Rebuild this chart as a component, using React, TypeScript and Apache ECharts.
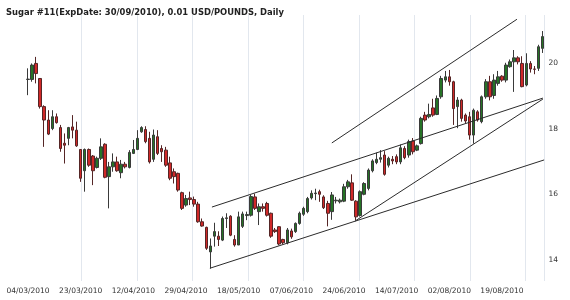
import React, { useEffect, useRef } from "react";
import * as echarts from "echarts";

const chartTitle = "Sugar #11(ExpDate: 30/09/2010), 0.01 USD/POUNDS, Daily";
const startDate = "2010-03-04";
const holidays = ["2010-04-02", "2010-05-31", "2010-07-05"];
const candleCount = 128;

const openVals = [
  19.49, 19.49, 19.98, 19.52, 18.66, 18.25, 17.99, 18.35, 18.02, 17.54,
  17.69, 18.04, 17.94, 17.35, 16.70, 17.35, 17.15, 16.80, 17.08, 17.51,
  16.52, 16.82, 16.97, 16.64, 16.90, 16.80, 17.23, 17.35, 17.89, 17.96,
  17.69, 17.05, 17.74, 17.38, 17.33, 16.94, 16.67, 16.62, 16.03, 15.65,
  15.87, 15.82, 15.68, 15.14, 14.97, 14.22, 14.70, 14.70, 14.58, 15.24,
  15.31, 14.60, 14.43, 15.00, 15.33, 15.34, 15.90, 15.45, 15.60, 15.70,
  15.40, 14.89, 14.99, 14.60, 14.50, 14.86, 14.84, 15.09, 15.37, 15.45,
  15.87, 16.00, 16.06, 15.90, 15.70, 15.45, 15.78, 15.75, 15.77, 16.21,
  16.33, 15.77, 15.33, 15.98, 16.16, 16.70, 16.95, 17.05, 17.18, 16.87,
  17.05, 17.13, 16.97, 17.38, 17.18, 17.61, 17.33, 17.53, 18.40, 18.35,
  18.62, 18.42, 18.96, 19.47, 19.57, 19.42, 18.66, 18.86, 18.40, 18.35,
  17.79, 18.50, 18.20, 18.96, 19.42, 19.00, 19.37, 19.59, 19.47, 19.88,
  20.03, 20.15, 19.98, 19.32, 19.98, 19.81, 19.83, 20.44,
];
const closeVals = [
  19.50, 19.93, 19.67, 18.66, 18.25, 17.82, 18.35, 18.17, 17.38, 17.48,
  18.02, 17.94, 17.46, 16.47, 17.35, 16.87, 16.70, 17.08, 17.43, 16.50,
  16.82, 16.97, 16.70, 16.90, 16.82, 17.26, 17.35, 17.69, 18.02, 17.59,
  16.97, 17.79, 17.23, 17.28, 16.87, 16.47, 16.52, 16.11, 15.55, 15.85,
  15.82, 15.68, 15.14, 15.01, 14.33, 14.40, 14.84, 14.60, 15.24, 15.26,
  14.73, 14.43, 15.29, 15.38, 15.36, 15.91, 15.55, 15.60, 15.55, 15.34,
  14.70, 14.84, 14.46, 14.50, 14.89, 14.68, 15.09, 15.40, 15.55, 15.85,
  16.01, 16.02, 15.98, 15.57, 15.40, 15.96, 15.80, 15.80, 16.21, 16.36,
  15.80, 15.29, 16.06, 16.31, 16.72, 17.00, 17.05, 17.10, 16.59, 17.08,
  17.00, 16.97, 17.40, 17.10, 17.59, 17.28, 17.46, 18.30, 18.25, 18.42,
  18.40, 18.91, 19.52, 19.57, 19.42, 18.60, 18.86, 18.30, 18.22, 17.79,
  18.55, 18.25, 18.96, 19.42, 18.96, 19.47, 19.57, 19.47, 19.93, 20.03,
  20.15, 20.03, 19.27, 19.98, 19.81, 19.80, 20.49, 20.80,
];
const lowVals = [
  19.01, 19.42, 19.37, 18.60, 17.43, 17.79, 17.94, 18.14, 17.28, 16.92,
  17.48, 17.69, 17.43, 16.36, 16.06, 16.82, 16.26, 16.77, 17.03, 16.47,
  15.55, 16.67, 16.67, 16.47, 16.77, 16.77, 17.21, 17.33, 17.86, 17.54,
  16.92, 16.97, 17.18, 16.97, 16.82, 16.41, 16.31, 16.06, 15.50, 15.60,
  15.65, 15.60, 15.11, 14.99, 14.28, 13.71, 14.38, 14.40, 14.55, 14.95,
  14.70, 14.38, 14.43, 14.95, 15.19, 15.30, 15.50, 15.04, 15.45, 15.30,
  14.65, 14.80, 14.42, 14.45, 14.45, 14.62, 14.80, 15.05, 15.32, 15.40,
  15.82, 15.80, 15.75, 15.53, 15.00, 15.20, 15.70, 15.70, 15.74, 16.15,
  15.78, 15.19, 15.30, 15.95, 16.10, 16.65, 16.90, 16.95, 16.55, 16.80,
  16.90, 16.90, 16.90, 17.05, 17.10, 17.20, 17.30, 17.50, 18.20, 18.30,
  18.35, 18.40, 18.90, 19.40, 19.30, 18.10, 18.00, 18.20, 18.15, 17.65,
  17.53, 18.20, 18.15, 18.90, 18.85, 18.90, 19.30, 19.42, 19.40, 19.85,
  19.11, 19.95, 19.25, 19.28, 19.70, 19.65, 19.75, 20.30,
];
const highVals = [
  19.83, 19.98, 20.18, 19.53, 18.70, 18.55, 18.55, 18.45, 18.10, 17.84,
  18.04, 18.40, 18.20, 17.36, 17.38, 17.38, 17.18, 17.13, 17.69, 17.54,
  16.97, 17.23, 17.13, 17.03, 16.97, 17.33, 17.64, 17.94, 18.06, 18.06,
  17.89, 17.96, 17.94, 17.48, 17.43, 17.13, 16.77, 16.64, 16.06, 15.96,
  16.06, 15.91, 15.75, 15.24, 14.99, 14.63, 15.11, 14.85, 15.30, 15.40,
  15.34, 14.73, 15.45, 15.45, 15.45, 15.96, 16.00, 15.70, 15.70, 15.75,
  15.42, 14.95, 15.00, 14.62, 14.95, 14.93, 15.12, 15.45, 15.60, 15.90,
  16.10, 16.15, 16.12, 15.95, 15.78, 16.05, 15.90, 15.85, 16.30, 16.42,
  16.59, 15.80, 16.10, 16.35, 16.77, 17.05, 17.25, 17.33, 17.30, 17.13,
  17.15, 17.20, 17.50, 17.45, 17.65, 17.70, 17.50, 18.35, 18.50, 18.75,
  18.90, 19.00, 19.60, 19.75, 19.78, 19.45, 18.95, 18.90, 18.45, 18.50,
  18.60, 18.55, 19.00, 19.50, 19.60, 19.65, 19.75, 19.62, 20.00, 20.10,
  20.39, 20.20, 20.20, 20.29, 20.05, 19.90, 20.55, 20.97,
];

const yTicks = [14, 16, 18, 20];
const gridStep = 13.7;

// trend lines: [index, price] endpoints
const trendA = [[45.4, 15.59], [127.1, 18.92]];
const trendB = [[44.9, 13.72], [127.4, 17.03]];
const trendC = [[80.7, 15.16], [127.1, 18.89]];
const trendD = [[75.0, 17.55], [120.7, 21.33]];

function buildDates(): string[] {
  const out: string[] = [];
  const d = new Date(startDate + "T00:00:00Z");
  while (out.length < candleCount) {
    const iso = d.toISOString().slice(0, 10);
    const wd = d.getUTCDay();
    if (wd !== 0 && wd !== 6 && holidays.indexOf(iso) < 0) {
      out.push(iso.slice(8, 10) + "/" + iso.slice(5, 7) + "/" + iso.slice(0, 4));
    }
    d.setUTCDate(d.getUTCDate() + 1);
  }
  return out;
}

export default function App() {
  const ref = useRef<HTMLDivElement>(null);
  useEffect(() => {
    if (!ref.current) return;
    const chart = echarts.init(ref.current, undefined, { renderer: "svg" });
    const dates = buildDates();
    const ohlc = openVals.map((o, i) => [o, closeVals[i], lowVals[i], highVals[i]]);
    const font = "DejaVu Sans, Verdana, sans-serif";
    const lineSeries = [trendA, trendB, trendC, trendD].map((pts) => ({
      type: "line",
      xAxisIndex: 1,
      data: pts,
      symbol: "none",
      silent: true,
      lineStyle: { color: "#2b2b2b", width: 1 },
      z: 5,
    }));
    chart.setOption({
      animation: false,
      title: {
        text: chartTitle,
        left: 6,
        top: 8,
        padding: 0,
        textStyle: { fontFamily: font, fontSize: 8.4, fontWeight: "bold", color: "#222" },
      },
      grid: { left: 26, top: 15, width: 518.5, height: 266 },
      xAxis: [
        {
          type: "category",
          data: dates,
          boundaryGap: true,
          axisLine: { show: false },
          axisTick: { show: false },
          splitLine: { show: false },
          axisLabel: { interval: 12, fontSize: 7.5, fontFamily: font, color: "#333", margin: 5 },
        },
        {
          type: "value",
          min: -0.5,
          max: candleCount - 0.5,
          interval: gridStep,
          axisLine: { show: false },
          axisTick: { show: false },
          axisLabel: { show: false },
          splitLine: { show: true, showMinLine: false, lineStyle: { color: "#e2e7ee", width: 1 } },
        },
      ],
      yAxis: {
        type: "value",
        position: "right",
        min: 13.33,
        max: 21.46,
        splitLine: { show: false },
        axisLine: { show: false },
        axisTick: { show: false },
        axisLabel: { customValues: yTicks, fontSize: 7.5, fontFamily: font, color: "#333", margin: 4 },
      },
      series: [
        {
          type: "candlestick",
          data: ohlc,
          barWidth: 3,
          itemStyle: {
            color: "#267326",
            color0: "#d02828",
            borderColor: "#3a3a3a",
            borderColor0: "#552626",
            borderWidth: 1,
          },
          z: 3,
        },
        ...lineSeries,
      ],
    });
    return () => chart.dispose();
  }, []);
  return (
    <div
      ref={ref}
      style={{ position: "fixed", left: 0, top: 0, width: 570, height: 300 }}
    />
  );
}
